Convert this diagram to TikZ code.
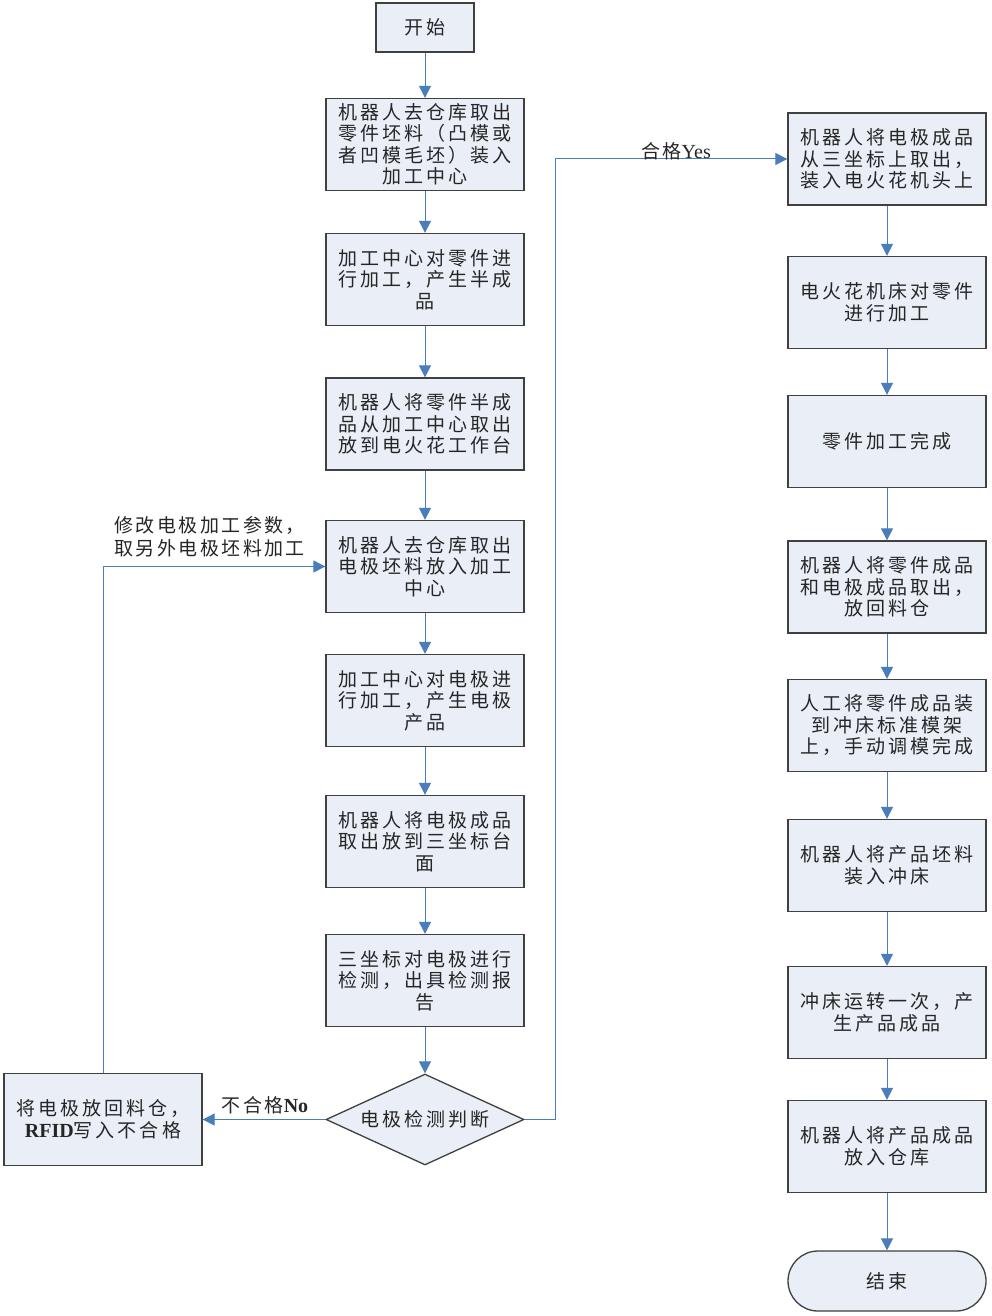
\documentclass[tikz,border=0pt]{standalone}
\usepackage{fontspec}
\setmainfont{Liberation Serif}
\newfontfamily\cjk[LetterSpace=16]{Noto Sans CJK SC}
\newfontfamily\cjklab[LetterSpace=13]{Noto Sans CJK SC}
\newcommand\latn[1]{{\rmfamily\fontsize{20}{22}\selectfont #1}}
\usetikzlibrary{shapes.geometric,arrows.meta}
\definecolor{boxfill}{HTML}{E9EEF7}
\definecolor{boxline}{HTML}{404040}
\definecolor{arrowc}{HTML}{4A7EBB}
\definecolor{txt}{HTML}{262626}
\tikzset{
  proc/.style={draw=boxline, fill=boxfill, line width=1.3pt, minimum width=198pt,
    minimum height=92pt, inner sep=0pt, align=center, text=txt,
    font=\cjk\fontsize{19}{21.5}\selectfont},
  startbox/.style={proc, minimum width=98pt, minimum height=49pt},
  decision/.style={proc, diamond, shape aspect=2.18, minimum width=198pt, minimum height=91pt},
  terminal/.style={proc, rounded corners=30pt, minimum height=60pt},
  conn/.style={draw=arrowc, line width=1pt, -{Triangle[width=12pt,length=12pt]}},
  lab/.style={text=txt, inner sep=0pt, font=\cjklab\fontsize{19}{23}\selectfont}
}
\begin{document}
\begin{tikzpicture}[x=1pt,y=-1pt]
\useasboundingbox[fill=white] (0,0) rectangle (992,1316);
% left column
\node[startbox] (s) at (425,27.5) {开始};
\node[proc] (b1) at (425,144.5) {机器人去仓库取出\\零件坯料（凸模或\\者凹模毛坯）装入\\加工中心};
\node[proc] (b2) at (425,279.5) {加工中心对零件进\\行加工，产生半成\\品};
\node[proc] (b3) at (425,424) {机器人将零件半成\\品从加工中心取出\\放到电火花工作台};
\node[proc] (b4) at (425,566.5) {机器人去仓库取出\\电极坯料放入加工\\中心};
\node[proc] (b5) at (425,700.5) {加工中心对电极进\\行加工，产生电极\\产品};
\node[proc] (b6) at (425,841.5) {机器人将电极成品\\取出放到三坐标台\\面};
\node[proc] (b7) at (425,980.5) {三坐标对电极进行\\检测，出具检测报\\告};
\node[decision] (d) at (425,1119.5) {电极检测判断};
\node[proc] (lb) at (103,1119.5) {将电极放回料仓，\\\latn{\bfseries RFID}写入不合格};
% right column
\node[proc] (r1) at (887,159) {机器人将电极成品\\从三坐标上取出，\\装入电火花机头上};
\node[proc] (r2) at (887,302.5) {电火花机床对零件\\进行加工};
\node[proc] (r3) at (887,441.5) {零件加工完成};
\node[proc] (r4) at (887,587) {机器人将零件成品\\和电极成品取出，\\放回料仓};
\node[proc] (r5) at (887,725.5) {人工将零件成品装\\到冲床标准模架\\上，手动调模完成};
\node[proc] (r6) at (887,865.5) {机器人将产品坯料\\装入冲床};
\node[proc] (r7) at (887,1012.5) {冲床运转一次，产\\生产品成品};
\node[proc] (r8) at (887,1146.5) {机器人将产品成品\\放入仓库};
\node[terminal] (e) at (887,1281) {结束};
% connectors
\draw[conn] (s) -- (b1);
\draw[conn] (b1) -- (b2);
\draw[conn] (b2) -- (b3);
\draw[conn] (b3) -- (b4);
\draw[conn] (b4) -- (b5);
\draw[conn] (b5) -- (b6);
\draw[conn] (b6) -- (b7);
\draw[conn] (b7) -- (d);
\draw[conn] (d.west) -- (lb.east);
\draw[conn] (lb.north) |- (b4.west);
\draw[conn] (d.east) -- ++(31,0) |- (r1.west);
\draw[conn] (r1) -- (r2);
\draw[conn] (r2) -- (r3);
\draw[conn] (r3) -- (r4);
\draw[conn] (r4) -- (r5);
\draw[conn] (r5) -- (r6);
\draw[conn] (r6) -- (r7);
\draw[conn] (r7) -- (r8);
\draw[conn] (r8) -- (e);
% labels
\node[lab, anchor=south] (ly) at (676,160) {合格\latn{Yes}};
\node[lab] (ln) at (265,1105) {不合格\latn{\bfseries No}};
\node[lab, anchor=west, align=left] (ll) at (114,537) {修改电极加工参数，\\取另外电极坯料加工};
\end{tikzpicture}
\end{document}
